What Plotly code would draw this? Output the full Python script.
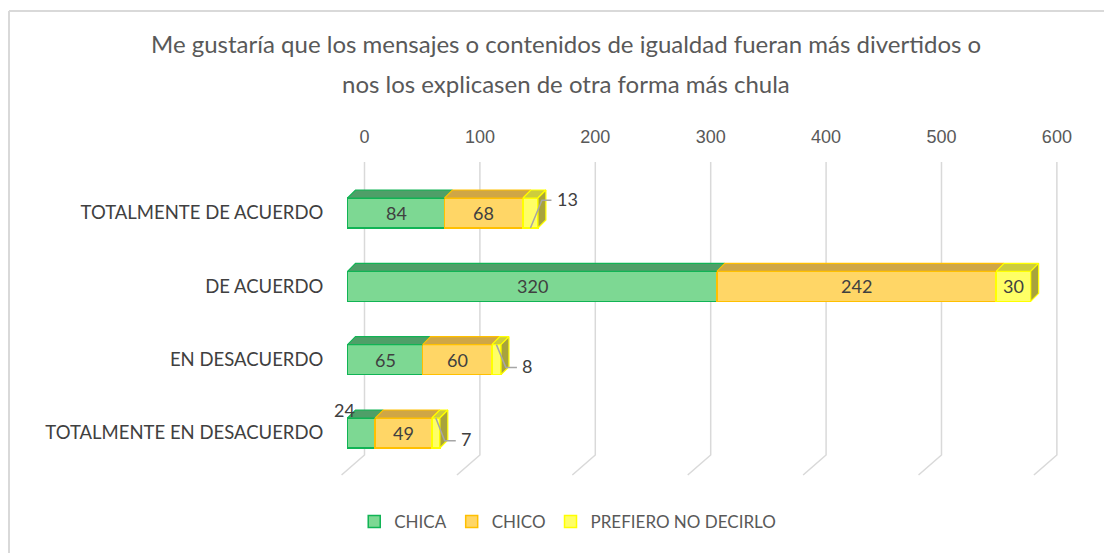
import plotly.graph_objects as go

categories = [
    "TOTALMENTE DE ACUERDO",
    "DE ACUERDO",
    "EN DESACUERDO",
    "TOTALMENTE EN DESACUERDO",
]
chica = [84, 320, 65, 24]
chico = [68, 242, 60, 49]
prefiero = [13, 30, 8, 7]
tick_values = [0, 100, 200, 300, 400, 500, 600]
title_lines = [
    "Me gustaría que los mensajes o contenidos de igualdad fueran más divertidos o",
    "nos los explicasen de otra forma más chula",
]

series = [
    # name, values, front fill, edge, top face
    ("CHICA", chica, "#7dd893", "#11b455", "#4f9f68"),
    ("CHICO", chico, "#ffd666", "#ffc000", "#cfa646"),
    ("PREFIERO NO DECIRLO", prefiero, "#ffff66", "#ffff00", "#cdcd3c"),
]
SIDE_COLOR = "#a8a33c"
TEXT = "#404040"
FONT = "Lato"

# geometry of the fake 3D look (in data units)
X_RANGE = [-10, 620]
Y_RANGE = [3.641, -0.6955]
H = 0.2046  # half height of the front face
DX = 6.9  # depth offset, x
DY = 0.109  # depth offset, y
GRID_OFF = 14.7  # back wall offset of the gridlines
GRID_BOTTOM = 3.30
FLOOR_Y = 3.573
FLOOR_DX = -19.9
leader_dir = ["up", None, "down", "down"]

fig = go.Figure()
ypos = list(range(len(categories)))

# front faces
for name, vals, fill, edge, top in series:
    fig.add_trace(
        go.Bar(
            y=ypos,
            x=vals,
            orientation="h",
            name=name,
            width=2 * H,
            marker=dict(color=fill, line=dict(color=edge, width=1.5)),
            hoverinfo="skip",
        )
    )

# top faces and side faces
starts = [0] * len(categories)
for i, (name, vals, fill, edge, top) in enumerate(series):
    xs, ys = [], []
    for c, v in enumerate(vals):
        a, b = starts[c], starts[c] + v
        yt = c - H
        xs += [a, a + DX, b + DX, b, a, None]
        ys += [yt, yt - DY, yt - DY, yt, yt, None]
    fig.add_trace(
        go.Scatter(
            x=xs, y=ys, mode="lines", fill="toself", fillcolor=top,
            line=dict(color=edge, width=1.2), showlegend=False, hoverinfo="skip",
        )
    )
    if i == len(series) - 1:
        sx, sy = [], []
        for c, v in enumerate(vals):
            b = starts[c] + v
            sx += [b, b + DX, b + DX, b, b, None]
            sy += [c - H, c - H - DY, c + H - DY, c + H, c - H, None]
        fig.add_trace(
            go.Scatter(
                x=sx, y=sy, mode="lines", fill="toself", fillcolor=SIDE_COLOR,
                line=dict(color=edge, width=1.2), showlegend=False, hoverinfo="skip",
            )
        )
    for c, v in enumerate(vals):
        starts[c] += v

# data labels
starts = [0] * len(categories)
for i, (name, vals, fill, edge, top) in enumerate(series):
    for c, v in enumerate(vals):
        a = starts[c]
        if v >= 26:
            fig.add_annotation(x=a + v / 2, y=c, text=str(v), showarrow=False,
                               font=dict(size=18, color=TEXT, family=FONT))
        elif i == 0:
            fig.add_annotation(x=a + 8.5, y=c - H - DY, text=str(v), showarrow=False,
                               xanchor="right", yanchor="middle",
                               font=dict(size=18, color=TEXT, family=FONT))
        else:
            total = a + v
            mid = a + v / 2
            if leader_dir[c] == "up":
                pts = [(mid, c + H), (total + DX * 0.5, c - H + 0.03), (total + DX * 1.7, c - H + 0.03)]
            else:
                pts = [(mid, c - H), (total + DX * 0.6, c + H - DY + 0.01), (total + DX * 2.0, c + H - DY + 0.01)]
            fig.add_trace(
                go.Scatter(
                    x=[p[0] for p in pts], y=[p[1] for p in pts], mode="lines",
                    line=dict(color="#a6a6a6", width=1.5), showlegend=False, hoverinfo="skip",
                )
            )
            fig.add_annotation(x=pts[-1][0] + 3, y=pts[-1][1] - 0.02, text=str(v),
                               showarrow=False, xanchor="left", yanchor="middle",
                               font=dict(size=18, color=TEXT, family=FONT))
        starts[c] += v

# gridlines on the back wall with a floor edge
for t in tick_values:
    gx = t + GRID_OFF
    fig.add_shape(
        type="path",
        path=f"M {gx} {Y_RANGE[1]} L {gx} {GRID_BOTTOM} L {gx + FLOOR_DX} {FLOOR_Y}",
        line=dict(color="#d9d9d9", width=1.5),
        layer="below",
    )

# chart border (left and top)
fig.add_shape(type="line", xref="paper", yref="paper", x0=-0.4498, x1=-0.4498,
              y0=1.4748, y1=-0.3, line=dict(color="#d9d9d9", width=2))
fig.add_shape(type="line", xref="paper", yref="paper", x0=-0.4498, x1=1.2,
              y0=1.4748, y1=1.4748, line=dict(color="#d9d9d9", width=2))

# title, two lines with the wide spacing of the original
for text, ty in zip(title_lines, [1.373, 1.2453]):
    fig.add_annotation(xref="paper", yref="paper", x=0.3164, y=ty, text=text,
                       showarrow=False, xanchor="center", yanchor="middle",
                       font=dict(size=24, color="#595959", family=FONT))

fig.update_xaxes(
    range=X_RANGE,
    side="top",
    tickvals=[t + GRID_OFF for t in tick_values],
    ticktext=[str(t) for t in tick_values],
    ticks="outside",
    ticklen=11,
    tickcolor="rgba(0,0,0,0)",
    tickfont=dict(size=18, color="#595959", family="Liberation Sans"),
    showgrid=False,
    zeroline=False,
    showline=False,
    fixedrange=True,
)
fig.update_yaxes(
    range=Y_RANGE,
    tickvals=ypos,
    ticktext=categories,
    ticks="outside",
    ticklen=8,
    tickcolor="rgba(0,0,0,0)",
    tickfont=dict(size=18.5, color=TEXT, family=FONT),
    showgrid=False,
    zeroline=False,
    showline=False,
    fixedrange=True,
)
# the page body adds an 8px margin, so the figure is 8px smaller on each axis
fig.update_layout(
    width=1104,
    height=545,
    barmode="stack",
    template="plotly_white",
    plot_bgcolor="white",
    paper_bgcolor="white",
    margin=dict(l=328, r=49, t=154, b=73),
    legend=dict(
        orientation="h",
        traceorder="normal",
        xref="container",
        yref="container",
        x=0.507,
        xanchor="center",
        y=31 / 545,
        yanchor="middle",
        font=dict(size=17, color="#595959", family=FONT),
        itemwidth=30,
    ),
    showlegend=True,
)

fig.write_html("out.html")
